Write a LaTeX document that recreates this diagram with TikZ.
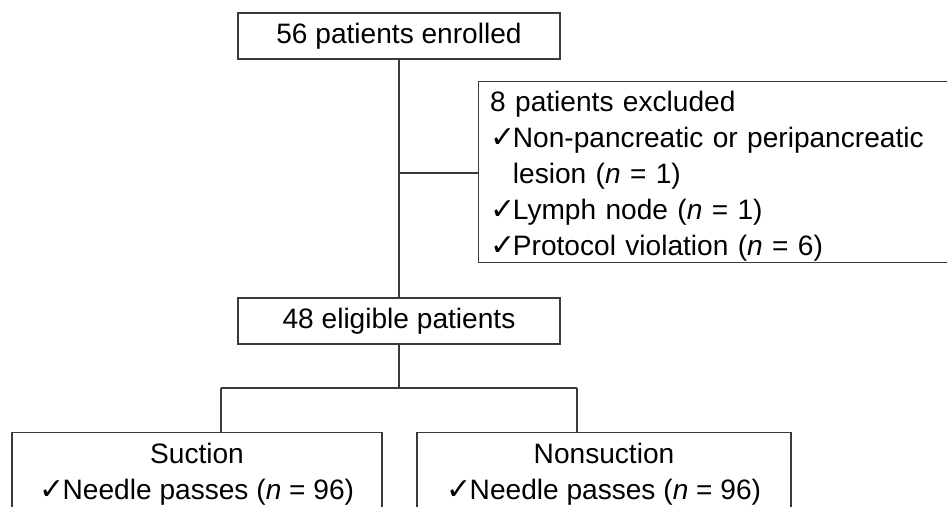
\documentclass[tikz,border=0pt]{standalone}
\usepackage{fontspec}
\setmainfont{Liberation Sans}
\newfontfamily\dejavu{DejaVu Sans}
\newcommand{\chk}{{\dejavu\fontsize{30}{30}\selectfont ✓}\kern-2.4pt}
\definecolor{linegray}{HTML}{3A3A3A}
\begin{document}
\begin{tikzpicture}[x=1pt,y=-1pt,
  box/.style={draw=linegray, line width=1.4pt, rectangle, inner sep=0pt},
  conn/.style={draw=linegray, line width=1.4pt},
  txt/.style={font=\fontsize{28.1}{36}\selectfont, text=black}]
\useasboundingbox (0,0) rectangle (947,506);
\clip (0,0) rectangle (947,506);
\fill[white] (0,0) rectangle (947,506);

\node[box, txt, minimum width=322, minimum height=46] (enr) at (399,36) {56 patients enrolled};
\node[box, txt, minimum width=322, minimum height=46] (elig) at (399,321) {48 eligible patients};
\node[box, txt, anchor=north west, minimum width=500, minimum height=181, text width=460, align=left, inner xsep=9pt] (exc) at (478,81) {};
\node[txt, anchor=north west, text width=460, align=left, inner sep=0pt] (exct) at ([xshift=12, yshift=-10]exc.north west)
  {8 patients excluded\\
   \chk Non-pancreatic or peripancreatic\\
   \phantom{\chk}lesion (\textit{n} = 1)\\
   \chk Lymph node (\textit{n} = 1)\\
   \chk Protocol violation (\textit{n} = 6)};

\node[box, minimum width=370, minimum height=120, anchor=north] (suc) at (197,432) {};
\node[txt, align=center, anchor=north, inner sep=0pt] (suct) at ([yshift=-11]suc.north) {Suction\\\chk Needle passes (\textit{n} = 96)};
\node[box, minimum width=374, minimum height=120, anchor=north] (non) at (604,432) {};
\node[txt, align=center, anchor=north, inner sep=0pt] (nont) at ([yshift=-11]non.north) {Nonsuction\\\chk Needle passes (\textit{n} = 96)};

\draw[conn] (enr.south) -- (elig.north);
\coordinate (j1) at (399,173);
\draw[conn] (j1) -- (exc.west |- j1);

\coordinate (j2) at (399,388);
\coordinate (jl) at (221,388);
\coordinate (jr) at (577,388);
\draw[conn] (elig.south) -- (j2);
\draw[conn] (jl) -- (jr);
\draw[conn] (jl) -- (jl |- suc.north);
\draw[conn] (jr) -- (jr |- non.north);
\end{tikzpicture}
\end{document}
